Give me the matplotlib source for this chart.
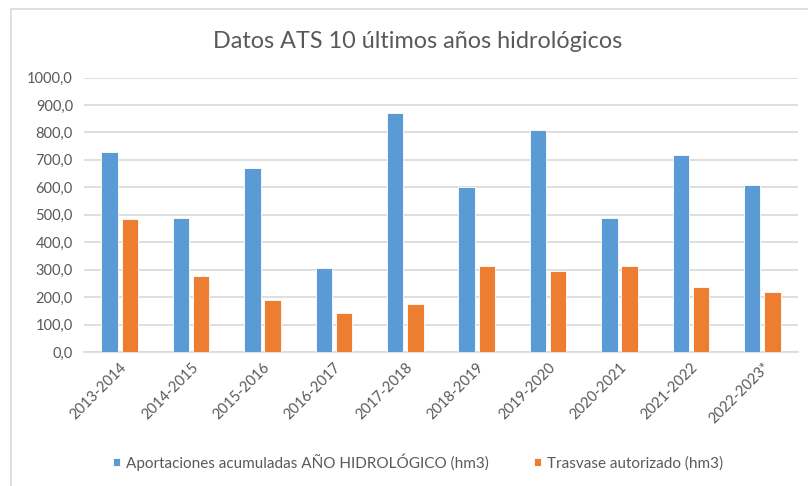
import matplotlib
matplotlib.use("Agg")
import matplotlib.pyplot as plt
from matplotlib.patches import Rectangle
import numpy as np

plt.rcParams['font.family'] = ['Lato', 'DejaVu Sans']

categories = ["2013-2014", "2014-2015", "2015-2016", "2016-2017", "2017-2018",
              "2018-2019", "2019-2020", "2020-2021", "2021-2022", "2022-2023*"]
aportaciones = [729, 488, 672, 307, 872, 600, 807, 488, 717, 610]
trasvase = [484, 278, 188, 141, 174, 313, 294, 313, 235, 217]
yticks = [0, 100, 200, 300, 400, 500, 600, 700, 800, 900, 1000]
ytick_labels = [f"{v:.1f}".replace(".", ",") for v in yticks]

blue = "#5B9BD5"
orange = "#ED7D31"
grid = "#D9D9D9"
txt = "#595959"

fig = plt.figure(figsize=(8.08, 4.86), dpi=100)
# chart border
fig.patches.append(Rectangle((11/808, -0.01), 1.0, 1 - 9/486 + 0.01, transform=fig.transFigure,
                             fill=False, edgecolor=grid, linewidth=1.2))

ax = fig.add_axes([84/808, 1 - 352/486, (798 - 84)/808, (352 - 77.5)/486])
x = np.arange(len(categories))
w = 0.228
off = 0.142
ax.bar(x - off, aportaciones, width=w, color=blue, edgecolor="white", linewidth=0.6,
       label="Aportaciones acumuladas AÑO HIDROLÓGICO (hm3)", zorder=3)
ax.bar(x + off, trasvase, width=w, color=orange, edgecolor="white", linewidth=0.6,
       label="Trasvase autorizado (hm3)", zorder=3)

ax.set_xlim(-0.5, len(categories) - 0.5)
ax.set_ylim(0, 1000)
ax.set_yticks(yticks)
ax.set_yticklabels(ytick_labels, fontsize=10.5, color=txt)
ax.set_xticks(x)
ax.set_xticklabels(categories, rotation=45, ha="right", rotation_mode="anchor",
                   fontsize=10.5, color=txt)
ax.tick_params(axis="both", length=0, pad=8)
ax.tick_params(axis="x", pad=6)
ax.yaxis.grid(True, color=grid, linewidth=1.2, zorder=0)
for s in ["top", "right", "left"]:
    ax.spines[s].set_visible(False)
ax.spines["bottom"].set_color(grid)
ax.spines["bottom"].set_linewidth(1.2)

fig.text(418/808, 1 - 42/486, "Datos ATS 10 últimos años hidrológicos", ha="center", va="center",
         fontsize=16.8, color=txt)

leg = fig.legend(loc="center", bbox_to_anchor=(418/808, 1 - 462/486), ncol=2, frameon=False,
                 fontsize=11, handlelength=0.46, handleheight=0.46, handletextpad=0.4,
                 columnspacing=2.9)
for t in leg.get_texts():
    t.set_color(txt)

fig.savefig("out.png", dpi=100)
